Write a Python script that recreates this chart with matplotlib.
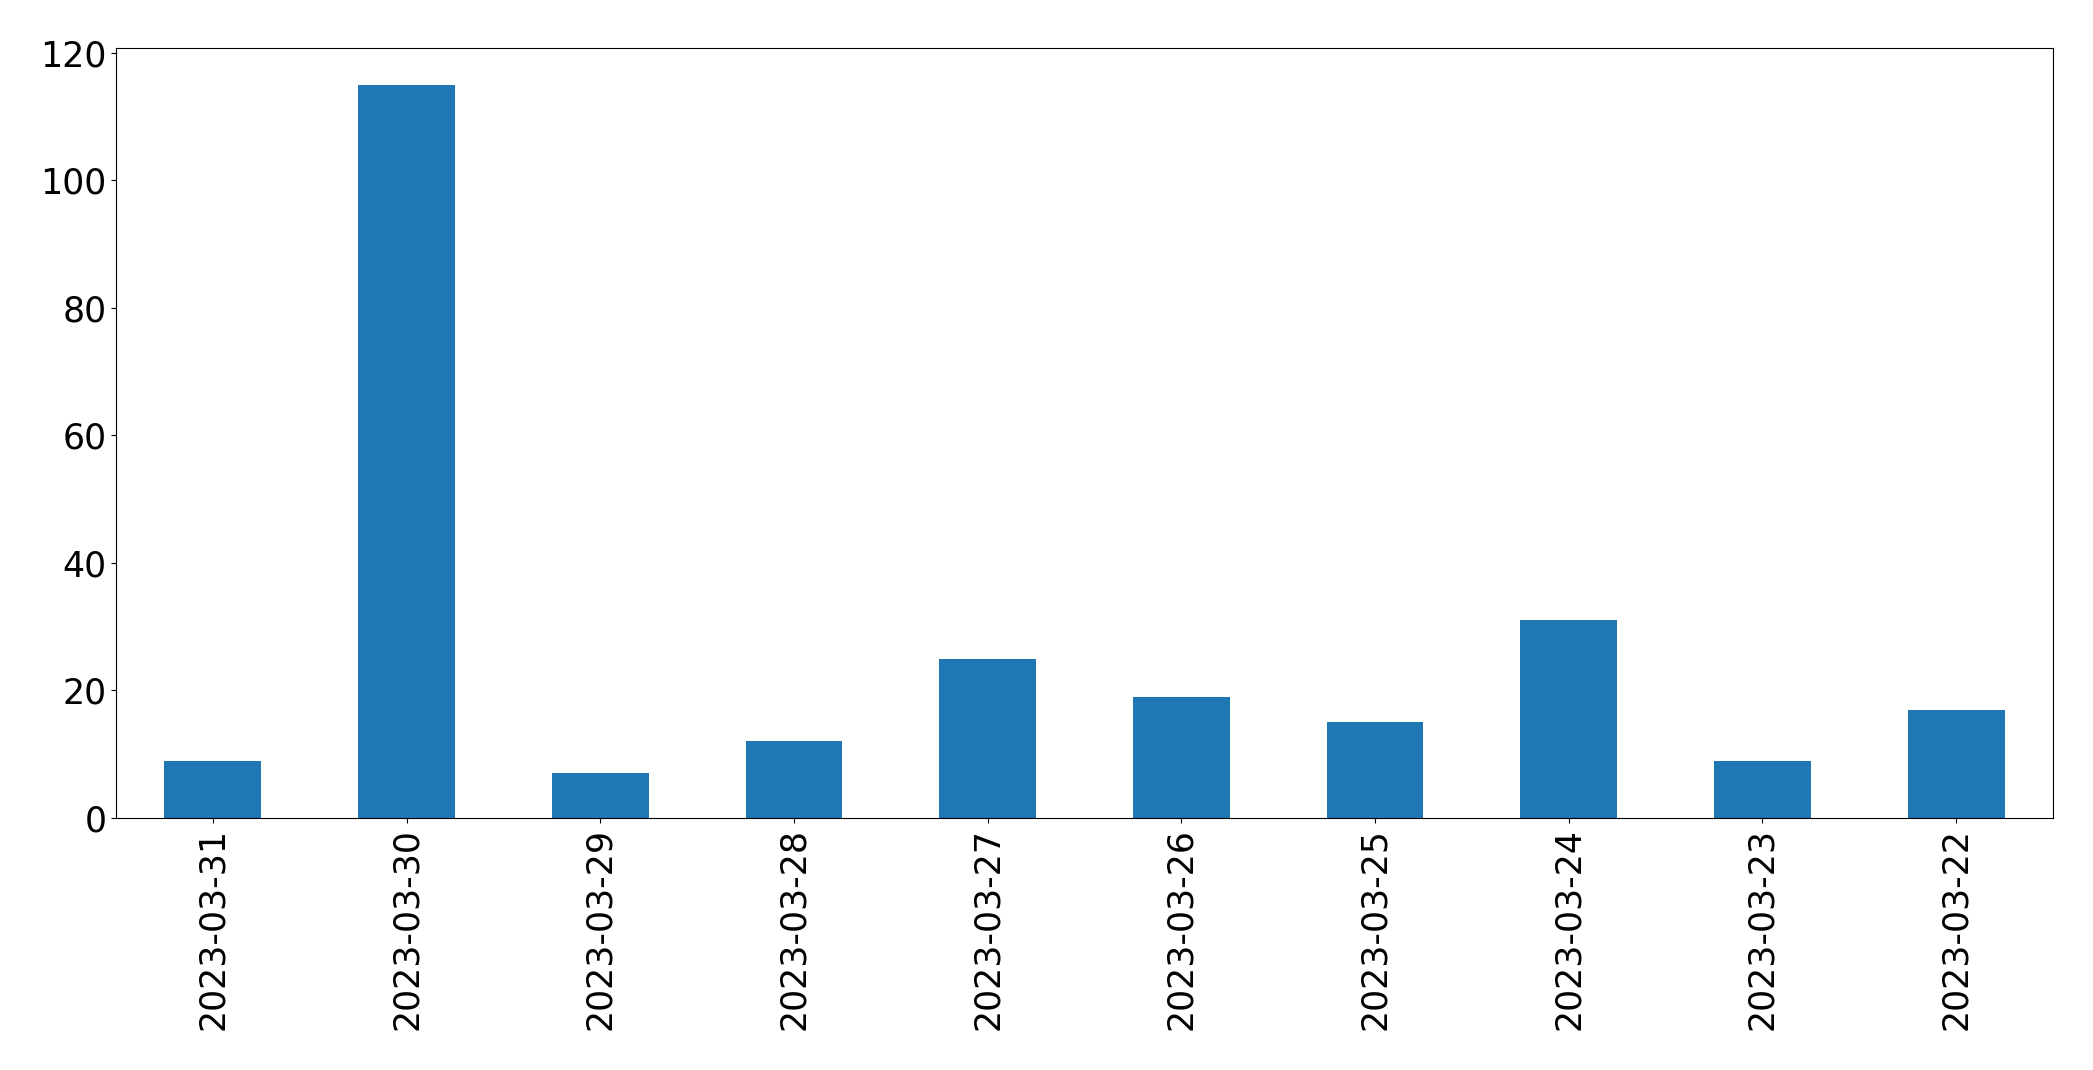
import pandas as pd
import matplotlib.pyplot as plt

dates = ["2023-03-31", "2023-03-30", "2023-03-29", "2023-03-28", "2023-03-27",
         "2023-03-26", "2023-03-25", "2023-03-24", "2023-03-23", "2023-03-22"]
counts = [9, 115, 7, 12, 25, 19, 15, 31, 9, 17]

s = pd.Series(counts, index=dates)

fig = plt.figure(figsize=(20.93, 10.70), dpi=100)
ax = fig.add_axes([116 / 2093, 1 - 818 / 1070, (2053 - 116) / 2093, (818 - 48) / 1070])
s.plot(kind="bar", ax=ax, color="#1f77b4")
ax.tick_params(axis="both", labelsize=25)
plt.setp(ax.get_xticklabels(), rotation=90)
fig.savefig("out.png", dpi=100)
